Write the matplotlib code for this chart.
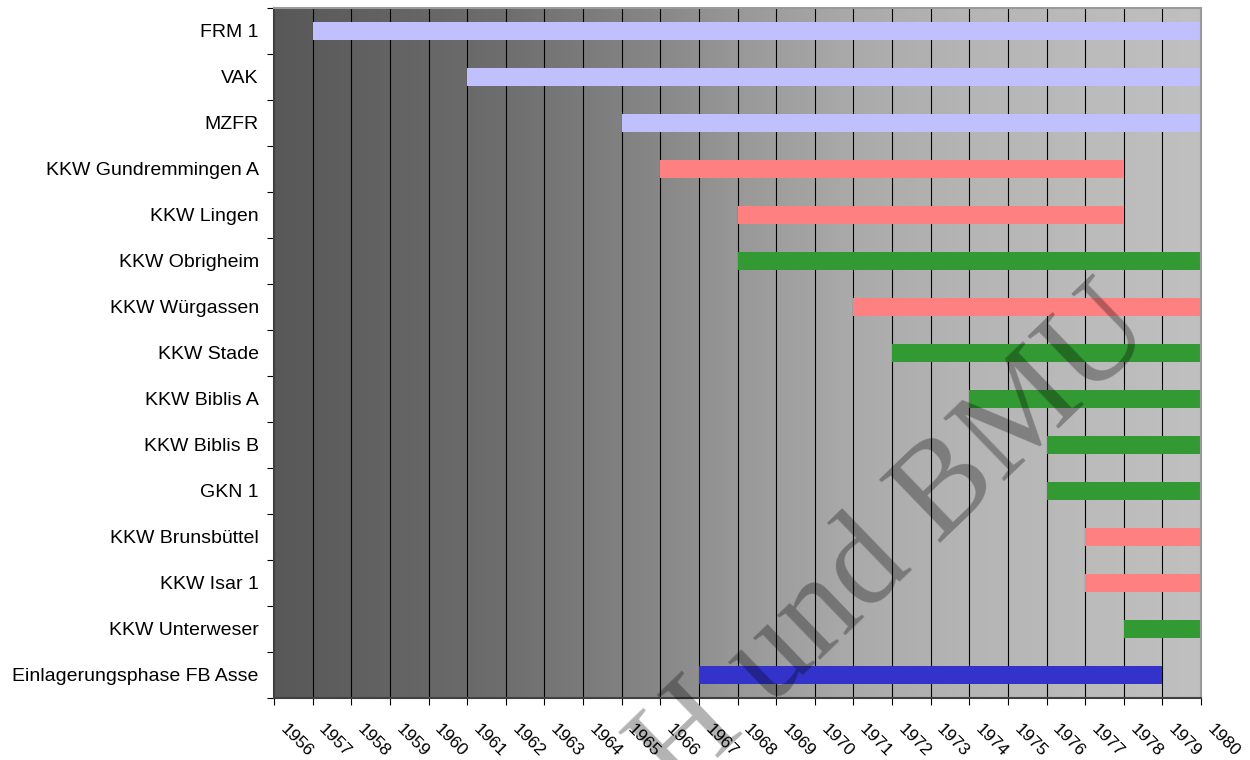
import numpy as np
import matplotlib
matplotlib.use("Agg")
import matplotlib.pyplot as plt
from matplotlib.transforms import ScaledTranslation

# anlagen und zeitraeume (jahr anfang / ende)
names = ["FRM 1", "VAK", "MZFR", "KKW Gundremmingen A", "KKW Lingen",
         "KKW Obrigheim", "KKW Würgassen", "KKW Stade", "KKW Biblis A",
         "KKW Biblis B", "GKN 1", "KKW Brunsbüttel", "KKW Isar 1",
         "KKW Unterweser", "Einlagerungsphase FB Asse"]
start = [1957, 1961, 1965, 1966, 1968, 1968, 1971, 1972, 1974, 1976, 1976,
         1977, 1977, 1978, 1967]
end = [1980, 1980, 1980, 1978, 1978, 1980, 1980, 1980, 1980, 1980, 1980,
       1980, 1980, 1980, 1979]
kind = ["forschung", "forschung", "forschung", "aus", "aus", "an", "aus",
        "an", "an", "an", "an", "aus", "aus", "an", "asse"]
years = list(range(1956, 1981))

colors = {"forschung": "#c0c0ff", "aus": "#ff8080", "an": "#339933",
          "asse": "#3333cc"}

plt.rcParams['font.family'] = ['Liberation Sans', 'DejaVu Sans']

fig = plt.figure(figsize=(12.5, 7.6), dpi=100)
ax = fig.add_axes([0.2192, 0.0816, 0.7416, 0.9079])

x0, x1 = years[0], years[-1]
n = len(names)
ax.set_xlim(x0, x1)
ax.set_ylim(n - 0.5, -0.5)

# grauverlauf im hintergrund
gx = np.linspace(0, 1, 400)
gv = np.interp(gx, [0, 0.25, 0.42, 0.5, 0.625, 0.75, 1.0],
               [0x58, 0x6e, 0x88, 0x98, 0xaa, 0xb5, 0xc0]) / 255.0
grad = np.dstack([gv, gv, gv]).repeat(2, axis=0)
ax.imshow(grad, extent=[x0, x1, n - 0.5, -0.5], aspect='auto', zorder=0)

for y in years[1:-1]:
    ax.axvline(y, color='black', lw=0.8, zorder=1)

ypos = np.arange(n)
ax.barh(ypos, np.array(end) - np.array(start), left=start, height=0.41,
        color=[colors[k] for k in kind], zorder=2, clip_on=False)

# achsen
ax.set_xticks(years)
ax.set_xticklabels([str(y) for y in years], rotation=-45, ha='left',
                   va='top', rotation_mode='anchor', fontsize=12.5)
ax.tick_params(axis='x', length=5, pad=12, direction='out')
shift = ScaledTranslation(10 / 72, 0, fig.dpi_scale_trans)
for lab in ax.get_xticklabels():
    lab.set_transform(lab.get_transform() + shift)

ax.set_yticks(np.arange(n + 1) - 0.5)
ax.set_yticklabels([])
ax.set_yticks(ypos, minor=True)
ax.set_yticklabels(names, minor=True, fontsize=14)
ax.tick_params(axis='y', which='minor', length=0, pad=11)
ax.tick_params(axis='y', which='major', length=5, direction='out')

for s in ['left', 'bottom']:
    ax.spines[s].set_color('#404040')
    ax.spines[s].set_linewidth(1.5)
for s in ['top', 'right']:
    ax.spines[s].set_color('#9a9a9a')
    ax.spines[s].set_linewidth(1.5)

# wasserzeichen
fig.text(1157 / 1250, 1 - 334 / 760, "Asse GmbH und BMU", fontsize=96,
         family='Liberation Serif', color='black', alpha=0.3, rotation=44,
         ha='right', va='baseline', rotation_mode='anchor', zorder=10)

fig.savefig("out.png", dpi=100, facecolor='white')
